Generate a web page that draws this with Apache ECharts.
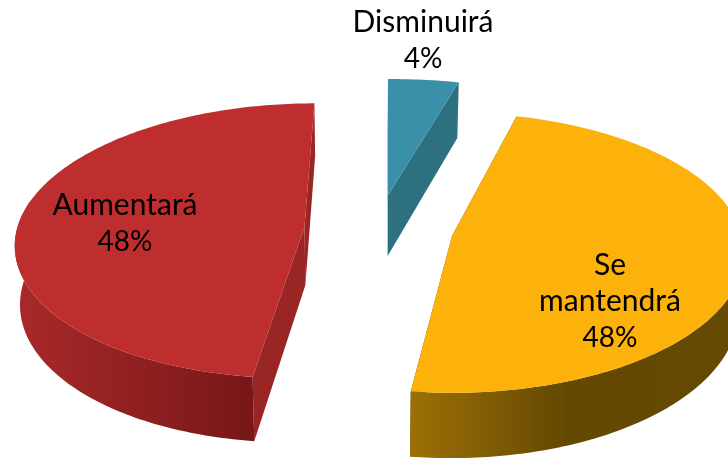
<!DOCTYPE html>
<html>
<head>
<meta charset="utf-8">
<title>Pie</title>
<script src="https://cdn.jsdelivr.net/npm/echarts@6/dist/echarts.min.js"></script>
<style>
html,body{margin:0;padding:0;background:#fff;}
#pic{width:728px;height:458px;}
</style>
</head>
<body>
<div id="pic"></div>
<script>
// clockwise from 12 o'clock, same order as the original sheet
var categories=["Disminuirá","Se mantendrá","Aumentará"];
var values=[4,48,48];
var labelLines=[["Disminuirá","4%"],["Se","mantendrá","48%"],["Aumentará","48%"]];

var topColors=["#3a90a8","#fcb20a","#bf2e2e"];
var cutColors=["#2d7181","#6b4d03","#9a2525"];
var wallStops=[
	[[0,"#2d7181"],[1,"#2d7181"]],
	[[0,"#9c7006"],[0.47,"#644802"],[1,"#654a02"]],
	[[0,"#aa2929"],[1,"#761719"]]
];

// layout of the exploded pie, in px
var center=[372,225];
var explode=[[16,-30],[80,11],[-67.5,2]];
var radiusX=[312,290,287];
var radiusY=[127.6,138,136];
var skew=[0,0,-0.08];
var depth=[61,57.5,58];
var perspective=[0.1,0.12,0.1];
var labelPos=[[423,22],[610,265],[125,205]];
var vanishX=364;
var vanishShrink=0.015;
var lineHeight=36.5;

var total=0;
for(var i=0;i<values.length;i++){total+=values[i];}

function project(i,deg){
	var a=deg*Math.PI/180;
	var u=Math.sin(a),v=-Math.cos(a);
	var s=1/(1-perspective[i]*v);
	var y=radiusY[i]*v*s;
	return [center[0]+explode[i][0]+radiusX[i]*u*s+skew[i]*y,center[1]+explode[i][1]+y,s,v];
}
function apex(i){
	return [center[0]+explode[i][0],center[1]+explode[i][1],1];
}
// same point on the lower disc
function down(i,p){
	return [p[0]+(vanishX-p[0])*vanishShrink,p[1]+depth[i]*p[2]];
}
function poly(points,fill){
	return {type:"polygon",silent:true,shape:{points:points},style:{fill:fill}};
}

function renderSlice(params,api){
	var i=params.dataIndex;
	var start=0;
	for(var k=0;k<i;k++){start+=values[k];}
	var a0=start/total*360;
	var a1=(start+api.value(0))/total*360;
	var arc=[];
	for(var d=a0;d<a1;d+=1){arc.push(project(i,d));}
	arc.push(project(i,a1));
	var A=apex(i);
	var first=arc[0],last=arc[arc.length-1];
	var children=[];
	// cut faces, then outer wall, the top face covers whatever should be hidden
	children.push(poly([first,down(i,first),down(i,A),A],cutColors[i]));
	children.push(poly([last,down(i,last),down(i,A),A],cutColors[i]));
	// only the front of the rim can be seen
	var front=arc.filter(function(p){return p[3]>-0.2;});
	if(front.length>1){
		var wall=front.map(function(p){return [p[0],p[1]];});
		for(var n=front.length-1;n>=0;n--){wall.push(down(i,front[n]));}
		children.push(poly(wall,new echarts.graphic.LinearGradient(0,0,1,0,wallStops[i].map(function(c){
			return {offset:c[0],color:c[1]};
		}))));
	}
	var face=[A].concat(arc.map(function(p){return [p[0],p[1]];}));
	children.push(poly(face,topColors[i]));
	labelLines[i].forEach(function(t,n){
		children.push({
			type:"text",
			silent:true,
			style:{
				x:labelPos[i][0],
				y:labelPos[i][1]+n*lineHeight,
				text:t,
				fill:"#000",
				// digits run narrower than the words in the original face
				font:(t.indexOf("%")>=0?"28px":"30px")+" Lato",
				align:"center",
				verticalAlign:"middle"
			}
		});
	});
	return {type:"group",children:children};
}

var myChart=echarts.init(document.getElementById("pic"));
myChart.setOption({
	animation:false,
	backgroundColor:"#fff",
	series:[{
		type:"custom",
		coordinateSystem:"none",
		renderItem:renderSlice,
		data:categories.map(function(c,i){
			return {name:c,value:values[i]};
		})
	}]
});
</script>
</body>
</html>
